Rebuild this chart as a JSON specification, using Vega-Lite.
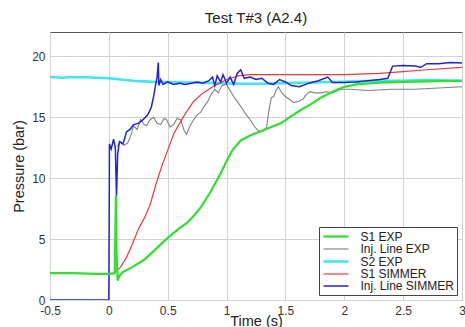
{
  "$schema": "https://vega.github.io/schema/vega-lite/v6.json",
  "width": 412,
  "height": 268,
  "autosize": {"type": "none"},
  "padding": {"left": 50, "top": 32, "right": 3, "bottom": 27},
  "title": {"text": "Test T#3 (A2.4)", "fontSize": 15, "fontWeight": "normal", "font": "Liberation Sans", "color": "#222", "offset": 6},
  "config": {
    "font": "Liberation Sans",
    "view": {"stroke": "#555", "strokeWidth": 1},
    "axis": {"labelFontSize": 12, "labelColor": "#333", "titleFontSize": 14.5, "titleFontWeight": "normal", "titleColor": "#222", "gridColor": "#d2d2d2", "gridWidth": 1, "domain": false, "ticks": false}
  },
  "datasets": {
    "d": [
      {"s": "S2 EXP", "t": -0.5, "p": 18.3}, {"s": "S2 EXP", "t": -0.4, "p": 18.25}, {"s": "S2 EXP", "t": -0.3, "p": 18.3}, {"s": "S2 EXP", "t": -0.2, "p": 18.28}, {"s": "S2 EXP", "t": -0.1, "p": 18.25}, {"s": "S2 EXP", "t": 0.0, "p": 18.2}, {"s": "S2 EXP", "t": 0.1, "p": 18.1}, {"s": "S2 EXP", "t": 0.2, "p": 18.0}, {"s": "S2 EXP", "t": 0.3, "p": 17.95}, {"s": "S2 EXP", "t": 0.4, "p": 17.9}, {"s": "S2 EXP", "t": 0.5, "p": 17.9}, {"s": "S2 EXP", "t": 0.7, "p": 17.85}, {"s": "S2 EXP", "t": 0.9, "p": 17.8}, {"s": "S2 EXP", "t": 1.1, "p": 17.75}, {"s": "S2 EXP", "t": 1.3, "p": 17.75}, {"s": "S2 EXP", "t": 1.5, "p": 17.8}, {"s": "S2 EXP", "t": 1.7, "p": 17.85}, {"s": "S2 EXP", "t": 1.9, "p": 17.9}, {"s": "S2 EXP", "t": 2.1, "p": 17.95}, {"s": "S2 EXP", "t": 2.3, "p": 18.0}, {"s": "S2 EXP", "t": 2.5, "p": 18.0}, {"s": "S2 EXP", "t": 2.7, "p": 18.05}, {"s": "S2 EXP", "t": 3.0, "p": 18.0},

      {"s": "Inj. Line EXP", "t": 0.07, "p": 12.6}, {"s": "Inj. Line EXP", "t": 0.1, "p": 13.0}, {"s": "Inj. Line EXP", "t": 0.13, "p": 12.7}, {"s": "Inj. Line EXP", "t": 0.16, "p": 12.9}, {"s": "Inj. Line EXP", "t": 0.19, "p": 13.6}, {"s": "Inj. Line EXP", "t": 0.21, "p": 14.3}, {"s": "Inj. Line EXP", "t": 0.24, "p": 14.0}, {"s": "Inj. Line EXP", "t": 0.27, "p": 14.8}, {"s": "Inj. Line EXP", "t": 0.3, "p": 14.4}, {"s": "Inj. Line EXP", "t": 0.32, "p": 14.3}, {"s": "Inj. Line EXP", "t": 0.35, "p": 14.8}, {"s": "Inj. Line EXP", "t": 0.38, "p": 15.0}, {"s": "Inj. Line EXP", "t": 0.41, "p": 14.5}, {"s": "Inj. Line EXP", "t": 0.44, "p": 14.4}, {"s": "Inj. Line EXP", "t": 0.47, "p": 14.9}, {"s": "Inj. Line EXP", "t": 0.49, "p": 14.8}, {"s": "Inj. Line EXP", "t": 0.52, "p": 14.2}, {"s": "Inj. Line EXP", "t": 0.55, "p": 14.4}, {"s": "Inj. Line EXP", "t": 0.58, "p": 14.9}, {"s": "Inj. Line EXP", "t": 0.61, "p": 14.8}, {"s": "Inj. Line EXP", "t": 0.64, "p": 13.9}, {"s": "Inj. Line EXP", "t": 0.66, "p": 13.6}, {"s": "Inj. Line EXP", "t": 0.69, "p": 14.3}, {"s": "Inj. Line EXP", "t": 0.72, "p": 14.8}, {"s": "Inj. Line EXP", "t": 0.75, "p": 15.2}, {"s": "Inj. Line EXP", "t": 0.78, "p": 15.4}, {"s": "Inj. Line EXP", "t": 0.81, "p": 15.9}, {"s": "Inj. Line EXP", "t": 0.84, "p": 16.3}, {"s": "Inj. Line EXP", "t": 0.87, "p": 16.9}, {"s": "Inj. Line EXP", "t": 0.9, "p": 17.3}, {"s": "Inj. Line EXP", "t": 0.93, "p": 17.0}, {"s": "Inj. Line EXP", "t": 0.96, "p": 17.6}, {"s": "Inj. Line EXP", "t": 1.0, "p": 17.7}, {"s": "Inj. Line EXP", "t": 1.03, "p": 17.2}, {"s": "Inj. Line EXP", "t": 1.06, "p": 16.7}, {"s": "Inj. Line EXP", "t": 1.09, "p": 16.3}, {"s": "Inj. Line EXP", "t": 1.12, "p": 15.9}, {"s": "Inj. Line EXP", "t": 1.16, "p": 15.3}, {"s": "Inj. Line EXP", "t": 1.2, "p": 14.8}, {"s": "Inj. Line EXP", "t": 1.24, "p": 14.2}, {"s": "Inj. Line EXP", "t": 1.27, "p": 13.9}, {"s": "Inj. Line EXP", "t": 1.31, "p": 13.85}, {"s": "Inj. Line EXP", "t": 1.34, "p": 14.2}, {"s": "Inj. Line EXP", "t": 1.36, "p": 15.6}, {"s": "Inj. Line EXP", "t": 1.38, "p": 16.6}, {"s": "Inj. Line EXP", "t": 1.4, "p": 16.7}, {"s": "Inj. Line EXP", "t": 1.42, "p": 17.2}, {"s": "Inj. Line EXP", "t": 1.44, "p": 17.5}, {"s": "Inj. Line EXP", "t": 1.47, "p": 17.0}, {"s": "Inj. Line EXP", "t": 1.5, "p": 16.7}, {"s": "Inj. Line EXP", "t": 1.53, "p": 16.5}, {"s": "Inj. Line EXP", "t": 1.57, "p": 16.2}, {"s": "Inj. Line EXP", "t": 1.61, "p": 16.3}, {"s": "Inj. Line EXP", "t": 1.65, "p": 16.5}, {"s": "Inj. Line EXP", "t": 1.68, "p": 16.9}, {"s": "Inj. Line EXP", "t": 1.71, "p": 17.1}, {"s": "Inj. Line EXP", "t": 1.75, "p": 17.0}, {"s": "Inj. Line EXP", "t": 1.8, "p": 17.0}, {"s": "Inj. Line EXP", "t": 1.85, "p": 17.1}, {"s": "Inj. Line EXP", "t": 1.9, "p": 17.0}, {"s": "Inj. Line EXP", "t": 1.97, "p": 17.3}, {"s": "Inj. Line EXP", "t": 2.05, "p": 17.3}, {"s": "Inj. Line EXP", "t": 2.2, "p": 17.2}, {"s": "Inj. Line EXP", "t": 2.4, "p": 17.3}, {"s": "Inj. Line EXP", "t": 2.6, "p": 17.3}, {"s": "Inj. Line EXP", "t": 2.8, "p": 17.4}, {"s": "Inj. Line EXP", "t": 3.0, "p": 17.5},

      {"s": "S1 SIMMER", "t": 0.05, "p": 2.3}, {"s": "S1 SIMMER", "t": 0.1, "p": 2.7}, {"s": "S1 SIMMER", "t": 0.15, "p": 3.5}, {"s": "S1 SIMMER", "t": 0.2, "p": 4.6}, {"s": "S1 SIMMER", "t": 0.25, "p": 5.8}, {"s": "S1 SIMMER", "t": 0.3, "p": 6.7}, {"s": "S1 SIMMER", "t": 0.35, "p": 7.8}, {"s": "S1 SIMMER", "t": 0.4, "p": 9.5}, {"s": "S1 SIMMER", "t": 0.45, "p": 11.0}, {"s": "S1 SIMMER", "t": 0.5, "p": 12.3}, {"s": "S1 SIMMER", "t": 0.55, "p": 13.6}, {"s": "S1 SIMMER", "t": 0.6, "p": 14.5}, {"s": "S1 SIMMER", "t": 0.65, "p": 15.3}, {"s": "S1 SIMMER", "t": 0.72, "p": 16.3}, {"s": "S1 SIMMER", "t": 0.8, "p": 17.0}, {"s": "S1 SIMMER", "t": 0.9, "p": 17.6}, {"s": "S1 SIMMER", "t": 1.0, "p": 18.1}, {"s": "S1 SIMMER", "t": 1.1, "p": 18.4}, {"s": "S1 SIMMER", "t": 1.2, "p": 18.5}, {"s": "S1 SIMMER", "t": 1.5, "p": 18.5}, {"s": "S1 SIMMER", "t": 2.0, "p": 18.5}, {"s": "S1 SIMMER", "t": 2.3, "p": 18.6}, {"s": "S1 SIMMER", "t": 2.5, "p": 18.75}, {"s": "S1 SIMMER", "t": 2.7, "p": 18.9}, {"s": "S1 SIMMER", "t": 3.0, "p": 19.1},

      {"s": "Inj. Line SIMMER", "t": -0.5, "p": 0}, {"s": "Inj. Line SIMMER", "t": 0.0, "p": 0}, {"s": "Inj. Line SIMMER", "t": 0.005, "p": 12.8}, {"s": "Inj. Line SIMMER", "t": 0.02, "p": 12.4}, {"s": "Inj. Line SIMMER", "t": 0.04, "p": 13.2}, {"s": "Inj. Line SIMMER", "t": 0.055, "p": 12.5}, {"s": "Inj. Line SIMMER", "t": 0.065, "p": 8.5}, {"s": "Inj. Line SIMMER", "t": 0.075, "p": 12.0}, {"s": "Inj. Line SIMMER", "t": 0.09, "p": 13.0}, {"s": "Inj. Line SIMMER", "t": 0.12, "p": 12.8}, {"s": "Inj. Line SIMMER", "t": 0.15, "p": 13.8}, {"s": "Inj. Line SIMMER", "t": 0.18, "p": 14.0}, {"s": "Inj. Line SIMMER", "t": 0.21, "p": 14.4}, {"s": "Inj. Line SIMMER", "t": 0.25, "p": 14.5}, {"s": "Inj. Line SIMMER", "t": 0.29, "p": 14.8}, {"s": "Inj. Line SIMMER", "t": 0.33, "p": 15.2}, {"s": "Inj. Line SIMMER", "t": 0.36, "p": 15.8}, {"s": "Inj. Line SIMMER", "t": 0.38, "p": 16.7}, {"s": "Inj. Line SIMMER", "t": 0.4, "p": 17.8}, {"s": "Inj. Line SIMMER", "t": 0.41, "p": 18.3}, {"s": "Inj. Line SIMMER", "t": 0.42, "p": 19.5}, {"s": "Inj. Line SIMMER", "t": 0.425, "p": 17.6}, {"s": "Inj. Line SIMMER", "t": 0.44, "p": 18.1}, {"s": "Inj. Line SIMMER", "t": 0.46, "p": 17.7}, {"s": "Inj. Line SIMMER", "t": 0.5, "p": 17.9}, {"s": "Inj. Line SIMMER", "t": 0.55, "p": 17.7}, {"s": "Inj. Line SIMMER", "t": 0.6, "p": 17.8}, {"s": "Inj. Line SIMMER", "t": 0.65, "p": 17.7}, {"s": "Inj. Line SIMMER", "t": 0.7, "p": 17.8}, {"s": "Inj. Line SIMMER", "t": 0.75, "p": 17.9}, {"s": "Inj. Line SIMMER", "t": 0.8, "p": 17.8}, {"s": "Inj. Line SIMMER", "t": 0.85, "p": 18.0}, {"s": "Inj. Line SIMMER", "t": 0.88, "p": 18.3}, {"s": "Inj. Line SIMMER", "t": 0.9, "p": 17.6}, {"s": "Inj. Line SIMMER", "t": 0.92, "p": 18.4}, {"s": "Inj. Line SIMMER", "t": 0.95, "p": 17.9}, {"s": "Inj. Line SIMMER", "t": 0.97, "p": 18.5}, {"s": "Inj. Line SIMMER", "t": 1.0, "p": 17.8}, {"s": "Inj. Line SIMMER", "t": 1.03, "p": 18.3}, {"s": "Inj. Line SIMMER", "t": 1.06, "p": 17.7}, {"s": "Inj. Line SIMMER", "t": 1.09, "p": 18.6}, {"s": "Inj. Line SIMMER", "t": 1.12, "p": 18.9}, {"s": "Inj. Line SIMMER", "t": 1.15, "p": 18.2}, {"s": "Inj. Line SIMMER", "t": 1.2, "p": 18.3}, {"s": "Inj. Line SIMMER", "t": 1.25, "p": 18.1}, {"s": "Inj. Line SIMMER", "t": 1.3, "p": 18.2}, {"s": "Inj. Line SIMMER", "t": 1.35, "p": 17.8}, {"s": "Inj. Line SIMMER", "t": 1.4, "p": 17.7}, {"s": "Inj. Line SIMMER", "t": 1.45, "p": 18.1}, {"s": "Inj. Line SIMMER", "t": 1.5, "p": 17.9}, {"s": "Inj. Line SIMMER", "t": 1.55, "p": 17.6}, {"s": "Inj. Line SIMMER", "t": 1.62, "p": 17.5}, {"s": "Inj. Line SIMMER", "t": 1.7, "p": 17.8}, {"s": "Inj. Line SIMMER", "t": 1.78, "p": 18.0}, {"s": "Inj. Line SIMMER", "t": 1.86, "p": 18.3}, {"s": "Inj. Line SIMMER", "t": 1.9, "p": 17.85}, {"s": "Inj. Line SIMMER", "t": 2.0, "p": 17.85}, {"s": "Inj. Line SIMMER", "t": 2.1, "p": 17.9}, {"s": "Inj. Line SIMMER", "t": 2.2, "p": 18.0}, {"s": "Inj. Line SIMMER", "t": 2.3, "p": 18.1}, {"s": "Inj. Line SIMMER", "t": 2.37, "p": 18.2}, {"s": "Inj. Line SIMMER", "t": 2.41, "p": 19.2}, {"s": "Inj. Line SIMMER", "t": 2.5, "p": 19.25}, {"s": "Inj. Line SIMMER", "t": 2.6, "p": 19.2}, {"s": "Inj. Line SIMMER", "t": 2.65, "p": 19.1}, {"s": "Inj. Line SIMMER", "t": 2.7, "p": 19.4}, {"s": "Inj. Line SIMMER", "t": 2.8, "p": 19.4}, {"s": "Inj. Line SIMMER", "t": 2.9, "p": 19.5}, {"s": "Inj. Line SIMMER", "t": 3.0, "p": 19.45},

      {"s": "S1 EXP", "t": -0.5, "p": 2.2}, {"s": "S1 EXP", "t": -0.3, "p": 2.2}, {"s": "S1 EXP", "t": -0.1, "p": 2.15}, {"s": "S1 EXP", "t": 0.0, "p": 2.15}, {"s": "S1 EXP", "t": 0.05, "p": 2.2}, {"s": "S1 EXP", "t": 0.06, "p": 8.6}, {"s": "S1 EXP", "t": 0.065, "p": 4.0}, {"s": "S1 EXP", "t": 0.075, "p": 1.6}, {"s": "S1 EXP", "t": 0.09, "p": 2.0}, {"s": "S1 EXP", "t": 0.12, "p": 2.3}, {"s": "S1 EXP", "t": 0.2, "p": 2.7}, {"s": "S1 EXP", "t": 0.3, "p": 3.3}, {"s": "S1 EXP", "t": 0.4, "p": 4.2}, {"s": "S1 EXP", "t": 0.5, "p": 5.1}, {"s": "S1 EXP", "t": 0.6, "p": 5.9}, {"s": "S1 EXP", "t": 0.66, "p": 6.3}, {"s": "S1 EXP", "t": 0.72, "p": 6.9}, {"s": "S1 EXP", "t": 0.78, "p": 7.6}, {"s": "S1 EXP", "t": 0.86, "p": 8.8}, {"s": "S1 EXP", "t": 0.95, "p": 10.4}, {"s": "S1 EXP", "t": 1.0, "p": 11.4}, {"s": "S1 EXP", "t": 1.05, "p": 12.3}, {"s": "S1 EXP", "t": 1.12, "p": 13.1}, {"s": "S1 EXP", "t": 1.2, "p": 13.5}, {"s": "S1 EXP", "t": 1.29, "p": 13.85}, {"s": "S1 EXP", "t": 1.38, "p": 14.2}, {"s": "S1 EXP", "t": 1.46, "p": 14.5}, {"s": "S1 EXP", "t": 1.55, "p": 15.1}, {"s": "S1 EXP", "t": 1.63, "p": 15.6}, {"s": "S1 EXP", "t": 1.72, "p": 16.1}, {"s": "S1 EXP", "t": 1.8, "p": 16.6}, {"s": "S1 EXP", "t": 1.9, "p": 17.1}, {"s": "S1 EXP", "t": 2.0, "p": 17.5}, {"s": "S1 EXP", "t": 2.1, "p": 17.7}, {"s": "S1 EXP", "t": 2.3, "p": 17.85}, {"s": "S1 EXP", "t": 2.5, "p": 17.9}, {"s": "S1 EXP", "t": 2.7, "p": 17.95}, {"s": "S1 EXP", "t": 3.0, "p": 18.0}
    ]
  },
  "data": {"name": "d"},
  "mark": {"type": "line", "clip": true},
  "encoding": {
    "x": {"field": "t", "type": "quantitative", "scale": {"domain": [-0.5, 3], "nice": false, "zero": false},
      "axis": {"title": "Time (s)", "values": [-0.5, 0, 0.5, 1, 1.5, 2, 2.5, 3], "labelExpr": "'' + datum.value", "labelPadding": 5, "titlePadding": -2, "labelFlush": false}},
    "y": {"field": "p", "type": "quantitative", "scale": {"domain": [0, 22], "nice": false},
      "axis": {"title": "Pressure (bar)", "values": [0, 5, 10, 15, 20], "labelPadding": 5, "titlePadding": 5}},
    "color": {"field": "s", "type": "nominal",
      "scale": {"domain": ["S1 EXP", "Inj. Line EXP", "S2 EXP", "S1 SIMMER", "Inj. Line SIMMER"], "range": ["#2fe02f", "#808080", "#3ee8ee", "#ee3a3a", "#2222dd"]},
      "legend": {"orient": "bottom-right", "offset": 5, "title": null, "fillColor": "white", "strokeColor": "#444", "padding": 3, "rowPadding": 0, "labelFontSize": 12, "labelColor": "#222", "labelAlign": "left", "labelOffset": 18, "symbolType": "M-2.5,0H2.5", "symbolSize": 100, "symbolOffset": 7.5, "symbolStrokeWidth": 2}},
    "strokeWidth": {"field": "s", "type": "nominal",
      "scale": {"type": "ordinal", "domain": ["S1 EXP", "Inj. Line EXP", "S2 EXP", "S1 SIMMER", "Inj. Line SIMMER"], "range": [2.2, 1.1, 2.6, 1.2, 1.5]},
      "legend": null},
    "order": {"field": "t", "type": "quantitative"}
  }
}
